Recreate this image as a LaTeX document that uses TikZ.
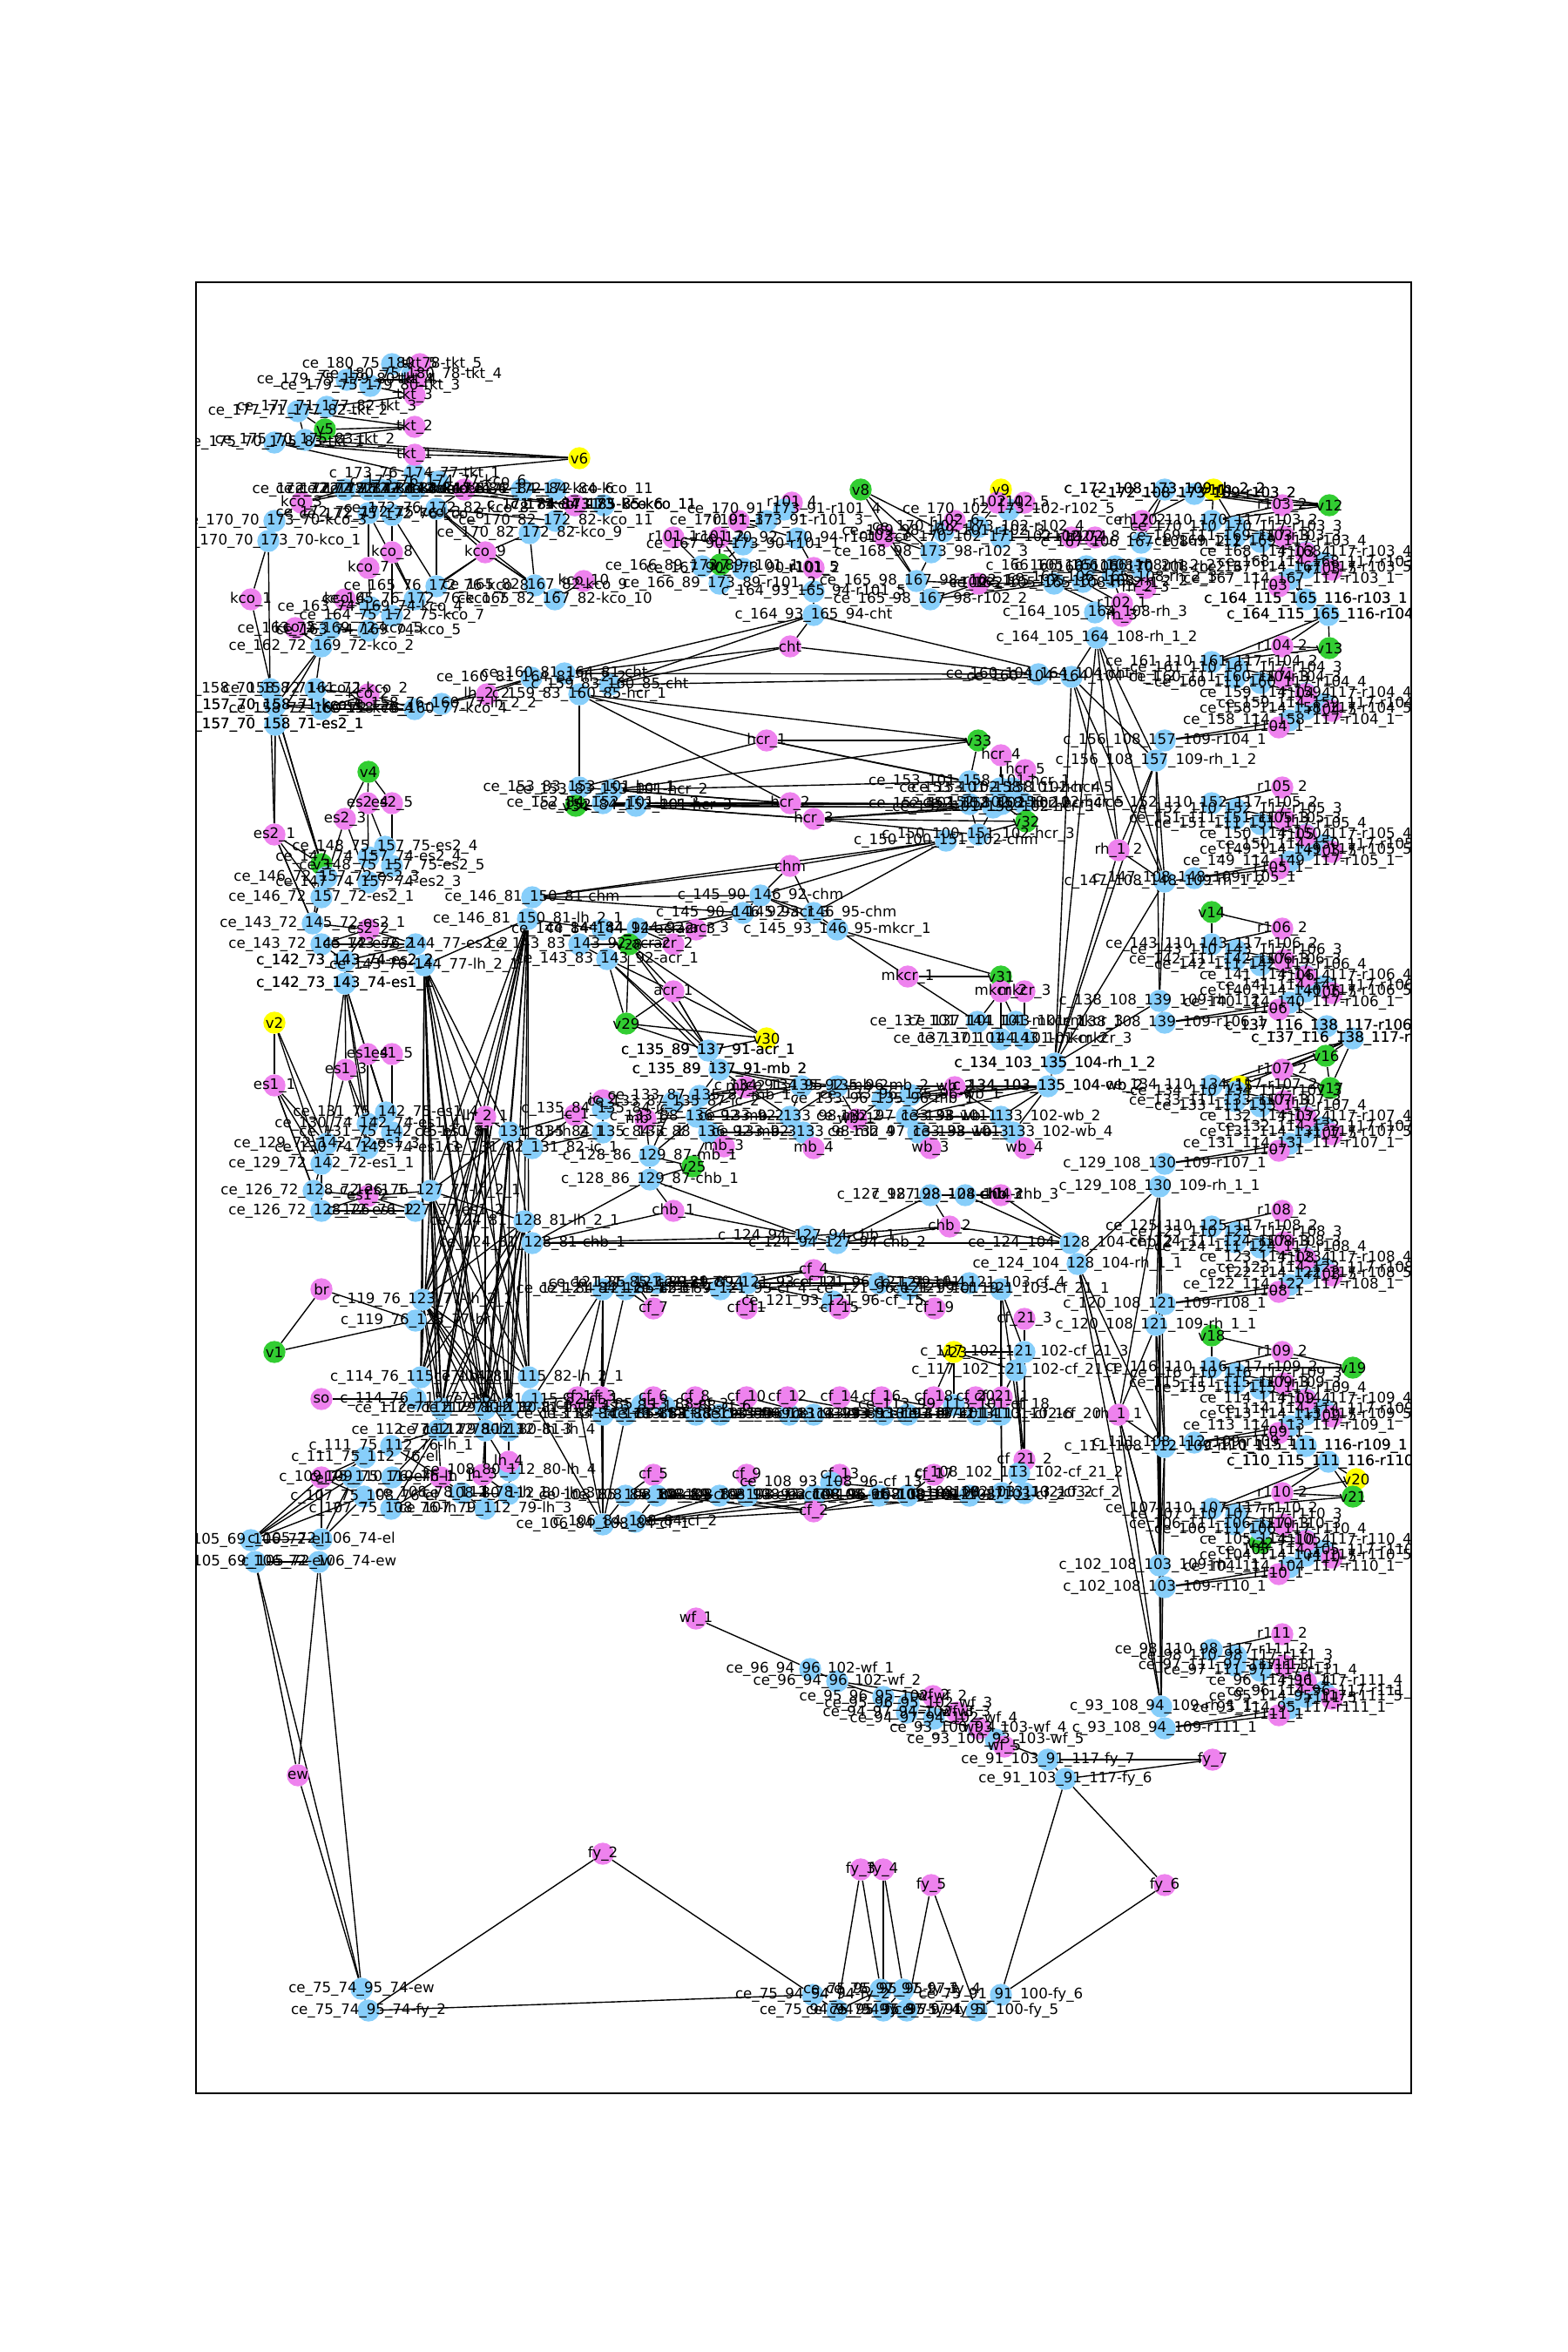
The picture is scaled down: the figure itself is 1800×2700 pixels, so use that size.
\documentclass[tikz,border=0pt]{standalone}
\usepackage{fontspec}
\setmainfont{DejaVu Sans}
\usetikzlibrary{backgrounds}
\definecolor{cb}{HTML}{87CEFA}
\definecolor{ct}{HTML}{EE82EE}
\definecolor{cg}{HTML}{32CD32}
\definecolor{cy}{HTML}{FFFF00}
\catcode`\_=12
\tikzset{
  vert/.style={circle, inner sep=0pt, minimum size=18.3pt},
  lbl/.style={inner sep=0pt, font=\fontsize{12}{12}\selectfont},
  link/.style={line width=1pt, black},
}
%%%%%%%%%% One repeated reaction block %%%%%%%%%%
\def\blockparts{cb/1391/18/A/ce_\na_110_\na_117-r\rn_2,cb/1419/25/B/ce_\na_110_\na_117-r\rn_3,cb/1418/36/C/ce_\nb_111_\nb_117-r\rn_3,cb/1447/42/D/ce_\nb_111_\nb_117-r\rn_4,cb/1499/54/E/ce_\nc_114_\nc_117-r\rn_4,cb/1520/66/F/ce_\nc_114_\nc_117-r\rn_5,cb/1499/72/G/ce_\nd_114_\nd_117-r\rn_5,cb/1480/85/H/ce_\nd_114_\nd_117-r\rn_1,ct/1472/0/p2/r\rn_2,ct/1474/36/p3/r\rn_3,ct/1499/55/p4/r\rn_4,ct/1529/74/p5/r\rn_5,ct/1468/93/p1/r\rn_1}
%%%%%%%%%% All other vertices %%%%%%%%%%
\def\graphverts{cb/450/418/tktA/ce_180_75_180_78-tkt_5,cb/473/430/tktB/ce_180_75_180_78-tkt_4,cb/398/436/tktC/ce_179_75_179_80-tkt_4,cb/425/443/tktD/ce_179_75_179_80-tkt_3,cb/375/467/tktE/ce_177_71_177_82-tkt_3,cb/342/472/tktF/ce_177_71_177_82-tkt_2,cb/350/505/tktG/ce_175_70_175_83-tkt_2,cb/315/508/tktH/ce_175_70_175_83-tkt_1,cb/476/544/tktI/c_173_76_174_77-tkt_1,cb/503/553/kcoAA/c_173_76_174_77-kco_6,ct/482/418/tkt5/tkt_5,ct/477/436/tkt4/tkt_4,ct/476/454/tkt3/tkt_3,ct/476/490/tkt2/tkt_2,ct/476/522/tkt1/tkt_1,cg/373/493/v5/v5,cy/665/526/v6/v6,
cb/396/562/kA/ce_172_72_172_84-kco_3,cb/423/562/kB/ce_172_74_172_84-kco_4,cb/436/562/kC/ce_172_75_172_84-kco_7,cb/450/562/kD/ce_172_76_172_84-kco_8,cb/476/562/kE/ce_172_77_172_84-kco_6,cb/599/562/kF/ce_172_84_172_84-kco_6,cb/638/562/kG/ce_172_84_172_84-kco_11,cb/660/580/kH/c_171_84_173_85-kco_6,cb/693/580/kHH/c_171_84_173_85-kco_11,cb/423/589/kI/ce_172_72_172_75-kco_3,cb/450/591/kJ/ce_172_75_172_76-kco_8,cb/501/584/kK/ce_172_76_172_82-kco_8,cb/315/598/kL/ce_170_70_173_70-kco_3,cb/308/621/kM/ce_170_70_173_70-kco_1,cb/638/598/kN/ce_170_82_172_82-kco_11,cb/608/612/kO/ce_170_82_172_82-kco_9,cb/501/673/kP/ce_165_76_172_76-kco_8,cb/476/688/kQ/ce_165_76_172_76-kco_7,cb/425/697/kR/ce_163_74_169_74-kco_4,cb/450/707/kS/ce_164_75_172_75-kco_7,cb/614/672/kT/ce_165_82_167_82-kco_9,cb/637/688/kU/ce_165_82_167_82-kco_10,cb/379/722/kV/ce_163_72_169_72-kco_5,cb/423/724/kW/ce_163_74_169_74-kco_5,cb/369/742/kX/ce_162_72_169_72-kco_2,cb/362/791/kY/ce_158_72_161_72-kco_2,cb/310/791/kZ/ce_158_70_158_71-kco_1,cb/316/810/esO/c_157_70_158_71-kco_1,cb/316/832/esP/c_157_70_158_71-es2_1,cb/369/814/kAB/ce_158_72_160_72-kco_4,cb/476/814/kAC/ce_158_76_160_77-kco_4,cb/507/808/kAD/ce_158_76_160_77-lh_2_2,
ct/346/577/kco3/kco_3,ct/533/562/kco6/kco_6,ct/660/580/kco11/kco_11,ct/450/634/kco8/kco_8,ct/423/652/kco7/kco_7,ct/557/634/kco9/kco_9,ct/288/688/kco1/kco_1,ct/670/667/kco10/kco_10,ct/396/688/kco4/kco_4,ct/339/721/kco5/kco_5,ct/423/797/kco2/kco_2,ct/559/797/lh22/lh_2_2,
cb/610/778/lhA/ce_160_81_164_81-lh_2_2,cb/648/773/chtA/ce_160_81_164_81-cht,cb/665/797/hcrA/c_159_83_160_85-hcr_1,cb/700/786/chtB/c_159_83_160_85-cht,
ct/909/577/r1014/r101_4,ct/848/598/r1013/r101_3,ct/773/617/r1011/r101_1,ct/826/617/r1012/r101_2,ct/934/652/r1015/r101_5,cb/900/585/rqA/ce_170_91_173_91-r101_4,cb/880/598/rqB/ce_170_91_173_91-r101_3,cb/915/618/rqC/ce_170_92_170_94-r101_3,cb/853/625/rqD/ce_167_90_173_90-r101_1,cb/806/650/rqE/ce_166_89_173_89-r101_1,cb/853/653/rqF/ce_167_90_173_90-r101_2,cb/826/670/rqG/ce_166_89_173_89-r101_2,cb/934/679/rqH/c_164_93_165_94-r101_5,cb/934/706/chtC/c_164_93_165_94-cht,cg/827/648/v7/v7,cg/988/562/v8/v8,cy/1149/562/v9/v9,ct/907/742/cht/cht,
cb/1158/585/rsA/ce_170_102_173_102-r102_5,cb/1123/605/rsB/ce_170_102_173_102-r102_4,cb/1149/617/rsC/ce_170_102_171_102-r102_4,cb/1083/610/rsD/ce_169_98_169_101-r102_3,cb/1069/634/rsE/ce_168_98_173_98-r102_3,cb/1052/667/rsF/ce_165_98_167_98-r102_1,cb/1068/688/rsG/ce_165_98_167_98-r102_2,ct/1015/616/r1023/r102_3,ct/1123/670/r1022/r102_2,ct/1145/577/r1024/r102_4,ct/1176/577/r1025/r102_5,ct/1096/598/r1026/r102_6,ct/1230/617/r1027/r102_7,ct/1257/617/r1028/r102_8,ct/1288/693/r1021/r102_1,
cb/1337/562/rhA/c_172_108_173_109-rh_2_2,cb/1371/567/rhB/c_172_108_173_109-r103_2,cy/1393/562/v11/v11,cb/1310/623/rhC/c_167_106_167_108-rh_2_2,cb/1247/650/rhD/c_166_105_166_108-rh_2_1,cb/1280/650/rhE/c_166_105_166_108-rh_2_2,cb/1310/652/rhF/c_166_106_170_108-rh_2_3,cb/1210/670/rhG/ce_165_105_165_108-rh_2_1,cb/1243/668/rhH/ce_165_105_165_108-rh_2_2,cb/1277/663/rhI/ce_165_106_165_108-rh_2_3,cb/1257/703/rhJ/c_164_105_164_108-rh_3,cb/1259/732/rhK/c_164_105_164_108-rh_1_2,ct/1311/598/rh2b/rh_2_2,ct/1315/675/rh2c/rh_2_3,ct/1288/707/rh3/rh_3,
cb/1192/774/chtD/ce_160_104_164_104-cht,cb/1230/777/rhL/ce_160_104_164_104-rh_1_2,
cb/1499/688/cfA/c_164_115_165_116-r103_1,cb/1525/706/cfB/c_164_115_165_116-r104_1,cb/1523/1178/cfC/c_137_116_138_117-r106_1,cb/1553/1192/cfD/c_137_116_138_117-r107_1,cb/1499/1660/cfE/c_110_115_111_116-r109_1,cb/1525/1678/cfF/c_110_115_111_116-r110_1,
cg/1526/580/v12/v12,cg/1526/744/v13/v13,cg/1391/1047/v14/v14,cy/1423/1247/v15/v15,cg/1522/1212/v16/v16,cg/1527/1249/v17/v17,cg/1391/1533/v18/v18,cg/1553/1570/v19/v19,cy/1557/1698/v20/v20,cg/1553/1718/v21/v21,cg/1447/1771/v22/v22,
cb/1337/850/c104/c_156_108_157_109-r104_1,cb/1327/873/h104/c_156_108_157_109-rh_1_2,cb/1371/1008/c105/c_147_108_148_109-r105_1,cb/1337/1012/h105/c_147_108_148_109-rh_1_2,cb/1337/1174/c106/c_138_108_139_109-r106_1,cb/1331/1149/h106/c_138_108_139_109-rh_1_2,cb/1337/1336/c107/c_129_108_130_109-r107_1,cb/1331/1362/h107/c_129_108_130_109-rh_1_1,cb/1337/1497/c108/c_120_108_121_109-r108_1,cb/1327/1521/h108/c_120_108_121_109-rh_1_1,cb/1371/1656/c109/c_111_108_112_109-r109_1,cb/1337/1661/h109/c_111_108_112_109-rh_1_1,cb/1337/1822/c110/c_102_108_103_109-r110_1,cb/1331/1797/h110/c_102_108_103_109-rh_1_1,cb/1337/1984/c111/c_93_108_94_109-r111_1,cb/1333/1959/h111/c_93_108_94_109-rh_1_1,ct/1284/976/rh12/rh_1_2,ct/1284/1624/rh11/rh_1_1,
cb/665/904/hcrC/ce_153_83_153_101-hcr_1,cb/702/907/hcrD/ce_153_83_153_101-hcr_2,cb/692/922/hcrE/ce_152_84_152_101-hcr_2,cb/730/925/hcrF/ce_152_84_152_101-hcr_3,cg/661/925/v34/v34,cb/1113/897/hcrG/ce_153_101_158_101-hcr_1,cb/1148/905/hcrH/ce_153_101_158_101-hcr_4,cb/1162/905/hcrM/ce_153_102_158_102-hcr_5,cb/1113/923/hcrI/ce_152_101_158_102-hcr_2,cb/1140/927/hcrJ/ce_152_101_158_102-hcr_3,cb/1150/923/hcrK/ce_152_102_158_102-hcr_4,cb/1175/922/hcrL/ce_152_102_158_102-hcr_5,cb/1123/958/hcrN/c_150_100_151_102-hcr_3,cb/1086/965/chmA/c_150_100_151_102-chm,ct/880/850/hcr1/hcr_1,ct/907/922/hcr2/hcr_2,ct/934/940/hcr3/hcr_3,ct/1149/867/hcr4/hcr_4,ct/1177/884/hcr5/hcr_5,cg/1123/850/v33/v33,cg/1178/943/v32/v32,ct/907/994/chm/chm,
cb/611/1030/chmB/ce_146_81_150_81-chm,cb/606/1055/lhB/ce_146_81_150_81-lh_2_1,cb/692/1067/acA/ce_144_84_144_92-acr_2,cb/732/1066/acB/ce_144_84_144_92-acr_3,cb/665/1084/acC/ce_143_83_143_92-acr_2,cb/697/1101/acD/ce_143_83_143_92-acr_1,cg/722/1084/v28/v28,ct/799/1067/acr3/acr_3,ct/773/1084/acr2/acr_2,ct/773/1138/acr1/acr_1,cg/719/1175/v29/v29,cy/880/1192/v30/v30,cb/813/1206/acE/c_135_89_137_91-acr_1,cb/826/1228/mbA/c_135_89_137_91-mb_2,cb/873/1028/chmC/c_145_90_146_92-chm,cb/853/1048/acF/c_145_90_146_92-acr_3,cb/934/1048/chmD/c_145_93_146_95-chm,cb/961/1067/mkA/c_145_93_146_95-mkcr_1,ct/1042/1121/mkcr1/mkcr_1,cg/1149/1121/v31/v31,ct/1149/1138/mkcr2/mkcr_2,ct/1176/1138/mkcr3/mkcr_3,cb/1122/1173/mkB/ce_137_101_144_101-mkcr_1,cb/1166/1173/mkC/ce_137_101_143_101-mkcr_3,cb/1149/1193/mkD/ce_137_101_144_101-mkcr_2,cb/1176/1193/mkE/ce_137_101_143_101-mkcr_3,cb/1211/1221/rhM/c_134_103_135_104-rh_1_2,cb/1203/1247/wbA/c_134_103_135_104-wb_2,
cb/920/1247/mbB/c_134_91_135_92-mb_2,cb/961/1247/mbC/ce_134_95_135_96-mb_2,cb/1045/1257/wbB/ce_133_96_135_96-wb_1,cb/1013/1262/mbD/ce_133_96_135_96-mb_1,cb/803/1258/mbE/ce_133_87_135_87-mb_1,cb/773/1265/mbF/ce_133_87_135_87-ic_2,cb/800/1282/mbG/c_133_88_136_92-mb_2,cb/814/1300/mbH/c_133_88_136_92-mb_3,cb/907/1282/mbI/ce_133_92_133_98-mb_2,cb/922/1300/mbJ/ce_133_92_133_98-mb_4,cb/1041/1282/wbC/ce_132_97_133_98-wb_1,cb/1054/1300/wbD/ce_132_97_133_98-wb_3,cb/1149/1282/wbE/ce_133_101_133_102-wb_2,cb/1163/1300/wbF/ce_133_101_133_102-wb_4,ct/856/1248/mb2/mb_2,ct/741/1285/mb1/mb_1,ct/983/1285/wb1/wb_1,ct/1096/1248/wb2/wb_2,ct/831/1316/mb3/mb_3,ct/934/1318/mb4/mb_4,ct/1068/1318/wb3/wb_3,ct/1176/1318/wb4/wb_4,cb/746/1327/chA/c_128_86_129_87-mb_1,cb/746/1354/chB/c_128_86_129_87-chb_1,cg/795/1339/v25/v25,ct/773/1390/chb1/chb_1,cb/1068/1372/chC/c_127_98_128_104-chb_2,cb/1108/1372/chD/c_127_98_128_104-chb_3,ct/1149/1372/chb3/chb_3,ct/1090/1408/chb2/chb_2,cb/926/1419/chE/c_124_94_127_94-chb_1,cb/961/1427/chF/c_124_94_127_94-chb_2,cb/1229/1427/chG/ce_124_104_128_104-chb_2,cb/1237/1451/rhN/ce_124_104_128_104-rh_1_1,cb/602/1402/lhC/ce_124_81_128_81-lh_2_1,cb/611/1427/chH/ce_124_81_128_81-chb_1,
ct/557/1282/lh21/lh_2_1,cb/585/1300/lhD/ce_130_81_131_81-lh_2_1,cb/611/1318/icA/ce_131_82_131_82-ic_1,ct/660/1280/ic1/ic_1,ct/692/1263/ic2/ic_2,cb/692/1300/icB/c_135_84_135_84-ic_1,cb/692/1273/icC/c_135_84_135_84-ic_2,cb/494/1367/lhE/c_126_76_127_77-lh_2_1,cb/477/1390/esA/c_126_76_127_77-es1_2,ct/422/1373/es12/es1_2,cb/360/1367/esB/ce_126_72_128_72-es1_1,cb/369/1390/esC/ce_126_72_128_72-es1_2,ct/315/1246/es11/es1_1,cy/315/1174/v2/v2,ct/397/1228/es13/es1_3,ct/422/1210/es14/es1_4,ct/450/1210/es15/es1_5,cb/443/1277/esD/ce_131_75_142_75-es1_4,cb/422/1290/esE/ce_130_74_142_74-es1_4,cb/450/1300/esF/ce_131_75_142_75-es1_5,cb/375/1313/esG/ce_129_72_142_72-es1_3,cb/422/1318/esH/ce_130_74_142_74-es1_3,cb/369/1336/esI/ce_129_72_142_72-es1_1,cb/396/1103/esJ/c_142_73_143_74-es2_2,cb/396/1129/esK/c_142_73_143_74-es1_1,cb/477/1084/esL/ce_143_76_144_77-es2_2,cb/487/1108/lhF/ce_143_76_144_77-lh_2_1,ct/423/1067/es22/es2_2,cb/359/1060/esM/ce_143_72_145_72-es2_1,cb/369/1084/esN/ce_143_72_145_72-es2_2,cg/423/886/v4/v4,ct/422/922/es24/es2_4,ct/450/922/es25/es2_5,ct/396/940/es23/es2_3,ct/315/958/es21/es2_1,cg/369/992/v3/v3,cb/442/972/esQ/ce_148_75_157_75-es2_4,cb/423/984/esR/ce_147_74_157_74-es2_4,cb/450/994/esS/ce_148_75_157_75-es2_5,cb/375/1007/esT/ce_146_72_157_72-es2_3,cb/423/1013/esU/ce_147_74_157_74-es2_3,cb/369/1030/esV/ce_146_72_157_72-es2_1,
ct/369/1480/br/br,cg/315/1552/v1/v1,cb/485/1492/lhG/c_119_76_123_77-lh_2_1,cb/477/1516/brA/c_119_76_123_77-br,ct/369/1606/so/so,cb/483/1581/lhH/c_114_76_115_77-lh_2_1,cb/477/1606/soA/c_114_76_115_77-so,cb/607/1581/lhI/ce_114_81_115_82-lh_2_1,cb/611/1607/cfG/ce_114_81_115_82-cf_1,
cb/507/1617/lhJ/ce_112_77_112_78-lh_1,cb/557/1617/lhK/ce_112_79_112_80-lh_1,cb/583/1617/lhL/ce_112_80_112_81-lh_3,cb/503/1642/lhM/ce_112_77_112_78-lh_3,cb/557/1642/lhN/ce_112_79_112_80-lh_3,cb/584/1642/lhO/ce_112_80_112_81-lh_4,cb/585/1688/lhP/ce_108_80_112_80-lh_4,cb/584/1715/lhQ/ce_108_80_112_80-lh_3,cb/530/1714/lhR/ce_108_78_112_78-lh_1,cb/557/1732/lhS/ce_107_79_112_79-lh_3,cb/449/1732/lhT/c_107_75_108_76-lh_1,cb/449/1660/lhU/c_111_75_112_76-lh_1,cb/419/1673/elA/c_111_75_112_76-el,cb/405/1696/elB/c_109_75_110_76-el,cb/450/1696/lhV/c_109_75_110_76-lh_1,cb/418/1718/elC/c_107_75_108_76-el,ct/584/1678/lh4/lh_4,ct/554/1693/lh3/lh_3,ct/506/1696/lh1/lh_1,ct/369/1696/el/el,
cb/369/1767/elD/c_105_72_106_74-el,cb/366/1793/ewA/c_105_72_106_74-ew,cb/288/1768/elE/c_105_69_106_72-el,cb/293/1793/ewB/c_105_69_106_72-ew,ct/342/2038/ew/ew,ct/692/2128/fy2/fy_2,cb/415/2283/ewC/ce_75_74_95_74-ew,cb/423/2308/fyA/ce_75_74_95_74-fy_2,ct/799/1858/wf1/wf_1,cb/933/2290/fyB/ce_75_94_94_94-fy_2,cb/961/2308/fyC/ce_75_94_94_94-fy_3,cb/1011/2284/fyD/ce_75_95_95_95-fy_3,cb/1037/2284/fyE/ce_75_97_97_97-fy_4,cb/1014/2308/fyF/ce_75_95_95_95-fy_4,cb/1041/2308/fyG/ce_75_97_97_97-fy_5,cb/1121/2308/fyH/ce_75_91_91_100-fy_5,cb/1149/2290/fyI/ce_75_91_91_100-fy_6,
cb/930/1916/wfA/ce_96_94_96_102-wf_1,cb/961/1930/wfB/ce_96_94_96_102-wf_2,cb/1014/1948/wfC/ce_95_96_95_102-wf_2,cb/1043/1956/wfD/ce_95_96_95_102-wf_3,cb/1041/1966/wfE/ce_94_97_94_102-wf_3,cb/1072/1973/wfF/ce_94_97_94_102-wf_4,cb/1123/1984/wfG/ce_93_100_93_103-wf_4,cb/1143/1997/wfH/ce_93_100_93_103-wf_5,ct/1071/1947/wf2/wf_2,ct/1099/1966/wf3/wf_3,ct/1124/1984/wf4/wf_4,ct/1153/2005/wf5/wf_5,cb/1203/2020/fyJ/ce_91_103_91_117-fy_7,cb/1223/2042/fyK/ce_91_103_91_117-fy_6,ct/1392/2020/fy7/fy_7,ct/1337/2164/fy6/fy_6,ct/988/2146/fy3/fy_3,ct/1014/2146/fy4/fy_4,ct/1069/2164/fy5/fy_5,
cb/692/1480/tA/ce_121_84_121_85-cf_3,cb/718/1480/tB/ce_121_84_121_85-cf_7,cb/729/1473/tC/ce_121_85_121_89-cf_7,cb/754/1473/tD/ce_121_85_121_89-cf_4,cb/827/1480/tE/ce_121_89_121_93-cf_4,cb/858/1473/tF/ce_121_89_121_93-cf_11,cb/956/1494/tG/ce_121_93_121_96-cf_15,cb/1009/1473/tH/ce_121_96_121_99-cf_4,cb/1042/1480/tI/ce_121_96_121_99-cf_19,cb/1113/1473/tJ/ce_121_101_121_103-cf_4,cb/1149/1480/tK/ce_121_101_121_103-cf_21_1,ct/934/1458/cf4/cf_4,ct/750/1502/cf7/cf_7,ct/857/1502/cf11/cf_11,ct/964/1502/cf15/cf_15,ct/1073/1502/cf19/cf_19,ct/1176/1514/cf213/cf_21_3,cb/1176/1552/tL/c_117_102_121_102-cf_21_3,cb/1166/1573/tM/c_117_102_121_102-cf_21_1,cy/1095/1552/v23/v23,
cb/692/1624/mA/ce_113_84_113_85-cf_1,cb/718/1624/mB/ce_113_84_113_85-cf_3,cb/737/1613/mC/ce_113_85_113_88-cf_3,cb/763/1615/mD/ce_113_85_113_88-cf_6,cb/799/1624/mE/ce_113_88_113_90-cf_6,cb/827/1624/mF/ce_113_88_113_90-cf_8,cb/906/1624/mG/ce_113_90_113_93-cf_8,cb/934/1624/mH/ce_113_90_113_93-cf_10,cb/1014/1624/mI/ce_113_93_113_97-cf_12,cb/1042/1624/mJ/ce_113_93_113_97-cf_14,cb/1095/1613/mM/ce_113_99_113_101-cf_18,cb/1122/1624/mK/ce_113_97_113_101-cf_16,cb/1149/1624/mL/ce_113_101_113_102-cf_20,ct/663/1604/cf1/cf_1,ct/690/1604/cf3/cf_3,ct/750/1604/cf6/cf_6,ct/798/1604/cf8/cf_8,ct/857/1604/cf10/cf_10,ct/904/1604/cf12/cf_12,ct/964/1604/cf14/cf_14,ct/1012/1604/cf16/cf_16,ct/1072/1604/cf18/cf_18,ct/1120/1604/cf20/cf_20,ct/1150/1604/cf211/cf_21_1,ct/750/1693/cf5/cf_5,ct/857/1693/cf9/cf_9,ct/964/1693/cf13/cf_13,ct/1072/1693/cf17/cf_17,ct/1176/1676/cf212/cf_21_2,
cb/1170/1691/bA/c_108_102_113_102-cf_21_2,cb/1150/1714/bB/c_108_102_113_102-cf_2,cb/1176/1714/bC/ce_108_103_113_103-cf_2,cb/1113/1717/bD/ce_108_101_108_103-cf_2,cb/718/1717/bE/ce_108_85_108_89-cf_5,cb/754/1717/bF/ce_108_85_108_89-cf_2,cb/826/1717/bG/ce_108_89_108_93-cf_2,cb/858/1717/bH/ce_108_89_108_93-cf_9,cb/954/1702/bI/ce_108_93_108_96-cf_13,cb/935/1717/bJ/ce_108_93_108_96-cf_2,cb/1009/1717/bK/ce_108_96_108_101-cf_2,cb/1042/1717/bL/ce_108_96_108_101-cf_17,cb/692/1750/bM/ce_106_84_108_84-cf_1,cb/729/1747/bN/c_106_84_108_84-cf_2,ct/934/1735/cf2/cf_2}
\begin{document}
\begin{tikzpicture}[x=0.72pt, y=-0.72pt]
  \useasboundingbox (0,0) rectangle (1800,2700);

  %%%%%%%%%% Vertices %%%%%%%%%%
  \foreach \kd/\px/\py/\nm/\tx in \graphverts
  {
    \node[vert, fill=\kd] (\nm) at (\px,\py) {};
  }
  \foreach \rn/\na/\yb in {103/170/580,104/161/742,105/152/904,106/143/1066,107/134/1228,108/125/1390,109/116/1552,110/107/1714,111/98/1876}
  {
    \foreach \kd/\px/\dy/\part/\tx in \blockparts
    {
      \node[vert, fill=\kd] (b\rn\part) at (\px,\yb+\dy) {};
    }
  }

  %%%%%%%%%% Connectors, under the vertices %%%%%%%%%%
  \begin{pgfonlayer}{background}
    % repeated blocks
    \foreach \rn in {103,...,111}
    {
      \foreach \a/\b in {A/p2,B/p3,C/p3,D/p4,E/p4,F/p5,G/p5,H/p1}
      {
        \draw[link] (b\rn\a) -- (b\rn\b);
      }
    }
    \foreach \rn in {104,...,111}
    {
      \draw[link] (c\rn) -- (b\rn p1);
      \draw[link] (c\rn) -- (b\rn H);
    }
    % lh fan
    \foreach \a in {lhF,lhB,lh21,lhE,lhC,lhG}
    {
      \foreach \b in {lhH,lhI,lhJ,lhK,lhM,lhN,lhO}
      {
        \draw[link] (\a) -- (\b);
      }
    }
    % everything else
    \foreach \a/\b in {tktA/tkt5,tktB/tkt4,tktC/tkt4,tktD/tkt3,tktE/tkt3,tktF/tkt2,tktG/tkt2,tktH/tkt1,tktI/tkt1,v5/tkt2,v5/tktF,v5/tktE,tktF/tktG,v5/tktG,v6/tkt1,v6/tktH,v6/tktG,v6/tktI,tktH/tktI,
      kco3/kA,kco3/kB,kB/kco6,kC/kco6,kD/kco6,kE/kco6,kA/kF,kB/kG,kE/kH,kF/kco6,kG/kco11,kH/kco6,kHH/kco11,kK/kco6,kcoAA/kco6,kL/kco3,kM/kco1,kM/kZ,kco1/esO,kX/kco5,kX/esO,kX/esP,kV/kco5,kY/kX,kI/kco7,kI/kQ,kJ/kco8,kJ/kP,kco8/kS,kco8/kQ,kco7/kR,kK/kP,kK/kco9,kK/kT,kO/kco9,kO/kT,kco9/kP,kco9/kQ,kco9/kT,kco9/kU,kU/kco10,kN/kco11,kN/kK,kR/kco4,kW/kco5,kS/kco4,kV/kW,
      esP/es21,esP/v3,esO/v3,esO/es21,kZ/v3,kZ/es21,esO/kAB,kY/kco2,kAB/kco2,kAC/kco2,kAC/kAB,esO/kAD,kAD/lh22,lhA/lh22,lhA/kAD,hcrA/hcr1,hcrA/v33,hcrA/hcrC,chtA/cht,chtB/cht,chtC/chtA,chtC/chtB,chtC/cht,chtA/chtD,chtB/rhL,cht/chtD,chtC/rhL,chtC/rqH,
      rqA/r1014,rqB/r1013,rqC/r1013,rqD/r1011,rqE/r1011,rqF/r1012,rqG/r1012,rqH/r1015,rqC/r1015,rqD/r1012,v7/rqD,v7/rqG,v7/rqE,v8/rsF,v8/rsE,v8/rsD,rsE/r1023,rsF/r1023,rsF/rsE,rsF/rsG,rsG/r1022,rsF/r1022,rsD/r1026,rsB/r1026,rsB/r1024,rsA/r1025,rsC/r1027,rsG/rhG,r1022/rhH,
      rhA/rh2b,rhA/rhC,rhB/rh2b,rhB/b103p2,rhC/rh2b,rhD/rh2c,rhE/rh2c,rhF/rh2c,rhI/r1021,rhJ/rh3,rhG/rh3,rhK/rhL,rhH/r1021,
      v12/b103p2,v11/b103p2,v12/b103A,v11/b103A,v11/b103B,v12/v11,rhB/v12,cfA/b103H,cfB/b104p2,cfB/b104A,cfB/v13,v13/b104p2,v13/b104A,v14/b106A,v14/b106p2,cfC/b106H,cfC/cfD,cfD/b107A,cfD/b107p2,cfD/v15,cfD/v16,cfD/v17,v16/v17,v16/b107p2,v15/b107A,v17/b107A,v17/b107p2,v15/b107B,v18/b109A,v18/b109p2,v19/b109p2,v19/b109A,cfE/b109H,cfF/b110A,cfF/b110p2,cfF/v20,cfF/v21,v20/b110p2,v21/b110p2,v21/b110A,v22/b110p4,v22/b110D,
      rhK/rhM,rhL/rhM,rhK/h104,rhK/h105,rhK/rh12,rhL/h104,rhL/h105,rhL/rh12,rh12/rhM,rh12/h104,rh12/h105,h104/rhM,h104/h105,h105/h106,h105/rhM,h106/rhM,c105/h105,c106/h106,h104/h106,rhM/wbA,
      h107/rhN,h107/h108,h107/h109,h107/h110,h107/h111,h108/rh11,h108/h109,h108/h110,h108/h111,rhN/rh11,rhN/h109,rhN/h110,rhN/h111,rh11/h109,rh11/h110,rh11/h111,rh11/h107,h109/h110,h110/h111,h109/h111,chG/rhN,
      hcr1/hcrG,hcr1/hcrH,hcr1/v33,hcr1/hcrC,v33/hcrG,v33/hcrD,hcrD/hcrG,hcrD/hcr2,hcrC/hcr2,hcrE/hcr2,hcrF/hcr3,hcrF/hcr2,hcr2/hcrI,hcrE/hcrI,hcrF/hcrJ,hcrF/hcrL,hcrE/hcrK,v34/hcrF,v34/hcrJ,hcr3/hcrN,hcr3/hcrJ,hcr3/v32,hcr3/hcrL,hcrM/hcr5,hcrH/hcr4,hcrK/hcr4,hcrL/hcr5,hcrN/v32,hcrI/hcrN,hcrJ/hcrN,v32/hcrK,hcrE/hcr3,hcr2/hcrK,hcrA/hcr2,
      chmA/chm,chm/chmB,chmA/chmC,chmA/chmD,chmA/chmB,chm/chmC,chm/chmD,chmB/chmC,chmB/acF,chmD/chmC,chmC/mkA,acF/chmC,
      acD/acr1,acD/acE,acD/v29,v28/v29,v28/acr1,v28/v30,v28/acE,acr1/v29,acr1/v30,acr1/acE,acr1/mbA,v29/v30,v29/acE,acE/v30,acD/mbA,acB/acr3,acC/acr2,acF/acr3,acF/acB,acA/acr3,acB/acr2,acC/v28,acC/acD,acA/lhB,chmD/mkA,mkA/mkcr1,mkA/v31,mkcr1/v31,mkcr1/mkB,v31/mkcr2,mkcr2/mkB,mkcr2/mkC,mkcr2/mkD,mkcr3/mkE,
      mbA/mbE,mbA/mb2,mbA/mbB,mbA/mbC,mbE/mbB,mbE/mb2,mbF/mb1,mbG/mbB,mbG/mb2,mbG/mbI,mbG/mb1,mbH/mbJ,mbH/mb3,mb2/mbI,mbB/mbI,mbC/mbI,mbC/wb1,mbD/wb1,mbJ/mb4,mbI/mb4,wbA/mbB,wbA/mbC,wbA/wbB,wbA/mbD,wbA/wb2,wbA/wbC,wbA/wbE,wbA/wbF,wb1/wbC,wbB/wb2,wbB/wbC,wbC/wbE,wbC/wb2,wbD/wb3,wbD/wbF,wbE/wb2,wbF/wb4,chA/v25,chA/mb1,chA/mbF,chA/mbG,chB/chb1,chB/chH,chB/chE,chB/v25,v25/mbH,chb1/chH,chb1/chE,chA/chB,
      chC/chD,chC/chF,chC/chb2,chD/chb3,chD/chG,chb3/chG,chb2/chG,chb2/chF,chb2/chE,chE/chF,chH/chF,chH/chE,chF/chG,
      icA/ic1,icA/icB,icB/ic1,icC/ic2,icB/ic2,lhD/ic1,icA/lh21,lhD/lhE,lhF/lh21,lhF/lhD,lhF/lhE,lhF/lhG,lhB/lhC,lhB/lhG,lhB/lhE,lhB/lh21,lhF/lhB,lh21/lhG,lhE/lhC,lhC/lhG,lhC/chH,chH/lhD,lhD/lhG,lhD/lhH,lhD/lhK,lhD/lhL,lhG/lhL,lhC/lhL,
      esA/es12,esB/es12,esC/es12,esC/esA,lhE/es12,es11/esI,es11/esG,es11/esC,es11/esB,v2/es11,v2/esI,v2/esG,es13/esH,es13/esG,es14/esD,es14/esE,es15/esF,esD/esE,esE/es13,esK/esE,esK/esH,esK/es13,esK/esF,esG/esB,esJ/esK,esJ/es22,esJ/esL,esK/esI,esL/es22,esM/es22,esN/es22,esN/esL,esF/esK,esI/esC,lhF/esJ,esM/esV,esM/es21,esM/esT,esN/esJ,
      v4/es24,v4/es23,v4/es25,es24/esQ,es24/esR,es25/esS,es23/esU,es23/esT,es21/esV,es21/v3,es21/esM,v3/esV,v3/esT,v3/esM,esR/esQ,esU/esS,esT/esV,
      br/v1,br/brA,v1/brA,lhG/brA,so/soA,lhH/soA,lhI/cfG,cfG/tA,cfG/bM,cfG/cf1,lhJ/lhM,lhK/lhN,lhL/lhO,lhM/lhU,lhM/lh1,lhM/lhV,lhM/lhT,lhU/lh1,lhV/lh1,lhT/lh1,lhR/lh1,lhR/lhS,lhN/lh3,lhS/lh3,lhN/lhS,lhN/lhP,lhO/lh4,lhP/lh4,lhQ/lh3,lhQ/lhP,lhR/lhQ,lhS/lhQ,
      elA/el,elB/el,elC/el,elA/elE,elB/elE,elC/elE,el/elE,el/elD,elB/elD,elC/elD,elD/elE,ewA/ewB,ewA/ew,ewA/ewC,ewB/ew,ewB/ewC,ew/ewC,ewC/fyA,fy2/fyA,fy2/fyB,fyA/fyB,fyB/fyC,fy3/fyC,fy3/fyD,fy4/fyF,fy4/fyE,fy5/fyG,fy5/fyH,fyC/fyD,fyF/fyE,fyH/fyI,fy6/fyI,fy6/fyK,fyI/fyK,fy7/fyJ,fy7/fyK,fyJ/fyK,
      wf1/wfA,wfA/wfB,wfB/wf2,wfB/wfC,wfC/wf2,wfD/wf3,wfE/wf3,wfF/wf4,wfG/wf4,wfH/wf5,wfD/wfE,wfF/wfG,wfH/fyJ,
      tA/cf1,tA/cf3,tA/bM,tA/mA,tB/cf7,tB/cf3,tC/cf7,tC/tD,tD/cf4,tE/cf4,tF/cf11,tF/cf4,tG/cf15,tH/cf4,tI/cf19,tJ/cf4,tJ/tK,tA/tB,tC/tE,tD/tF,tE/tF,tH/tI,tH/tJ,tI/tJ,tF/tH,tE/tH,tD/tH,tF/tJ,tK/mL,tK/bB,tK/cf211,tK/cf212,tL/cf213,tL/tK,tM/cf211,tM/cf212,tM/bC,tL/cf212,v23/cf18,v23/mM,v23/tL,v23/tM,tG/tF,
      mA/cf1,mA/bM,mB/cf3,mB/bM,mC/cf3,mD/cf6,mC/mD,mE/cf6,mF/cf8,mG/cf8,mH/cf10,mI/cf12,mJ/cf14,mK/cf16,mL/cf20,mM/cf18,mA/mL,mB/mK,mC/mH,mE/mJ,mF/mI,mG/mK,
      cf1/bM,cf3/bM,bE/cf5,bF/cf2,bG/cf2,bH/cf9,bI/cf13,bJ/cf2,bK/cf2,bL/cf17,bD/cf2,bA/cf212,bB/bD,bC/cf212,bA/bB,bM/bN,bN/cf2,bN/bF,bN/bG,bN/bJ,bE/bF,bF/bG,bG/bH,bH/bJ,bJ/bK,bK/bL,bL/bD,bD/bB,bJ/bD,bN/bK,bM/bE,bF/bK,bG/bD,bI/bD,mL/bB}
    {
      \draw[link] (\a) -- (\b);
    }
  \end{pgfonlayer}

  %%%%%%%%%% Labels, cut at the frame %%%%%%%%%%
  \begin{scope}
    \clip (225,324) rectangle (1620,2403);
    \foreach \kd/\px/\py/\nm/\tx in \graphverts
    {
      \node[lbl] (l\nm) at (\nm) {\tx};
    }
    \foreach \rn/\na/\yb in {103/170/580,104/161/742,105/152/904,106/143/1066,107/134/1228,108/125/1390,109/116/1552,110/107/1714,111/98/1876}
    {
      \pgfmathtruncatemacro\nb{\na-1}
      \pgfmathtruncatemacro\nc{\na-2}
      \pgfmathtruncatemacro\nd{\na-3}
      \foreach \kd/\px/\dy/\part/\tx in \blockparts
      {
        \node[lbl] (lb\rn\part) at (b\rn\part) {\tx};
      }
    }
    % labels that print twice in the same spot
    \foreach \nm/\tx in {esO/c_157_70_158_71-kco_1,esP/c_157_70_158_71-es2_1,esJ/c_142_73_143_74-es2_2,esK/c_142_73_143_74-es1_1,acE/c_135_89_137_91-acr_1,mbA/c_135_89_137_91-mb_2,rhM/c_134_103_135_104-rh_1_2,wbA/c_134_103_135_104-wb_2,cfA/c_164_115_165_116-r103_1,cfB/c_164_115_165_116-r104_1,cfC/c_137_116_138_117-r106_1,cfD/c_137_116_138_117-r107_1,cfE/c_110_115_111_116-r109_1,cfF/c_110_115_111_116-r110_1,rhA/c_172_108_173_109-rh_2_2,rhB/c_172_108_173_109-r103_2,kH/c_171_84_173_85-kco_6,kHH/c_171_84_173_85-kco_11}
    {
      \node[lbl] (m\nm) at (\nm) {\tx};
    }
  \end{scope}

  %%%%%%%%%% Frame %%%%%%%%%%
  \draw[line width=0.8pt] (225,324) rectangle (1620,2403);

\end{tikzpicture}
\end{document}
